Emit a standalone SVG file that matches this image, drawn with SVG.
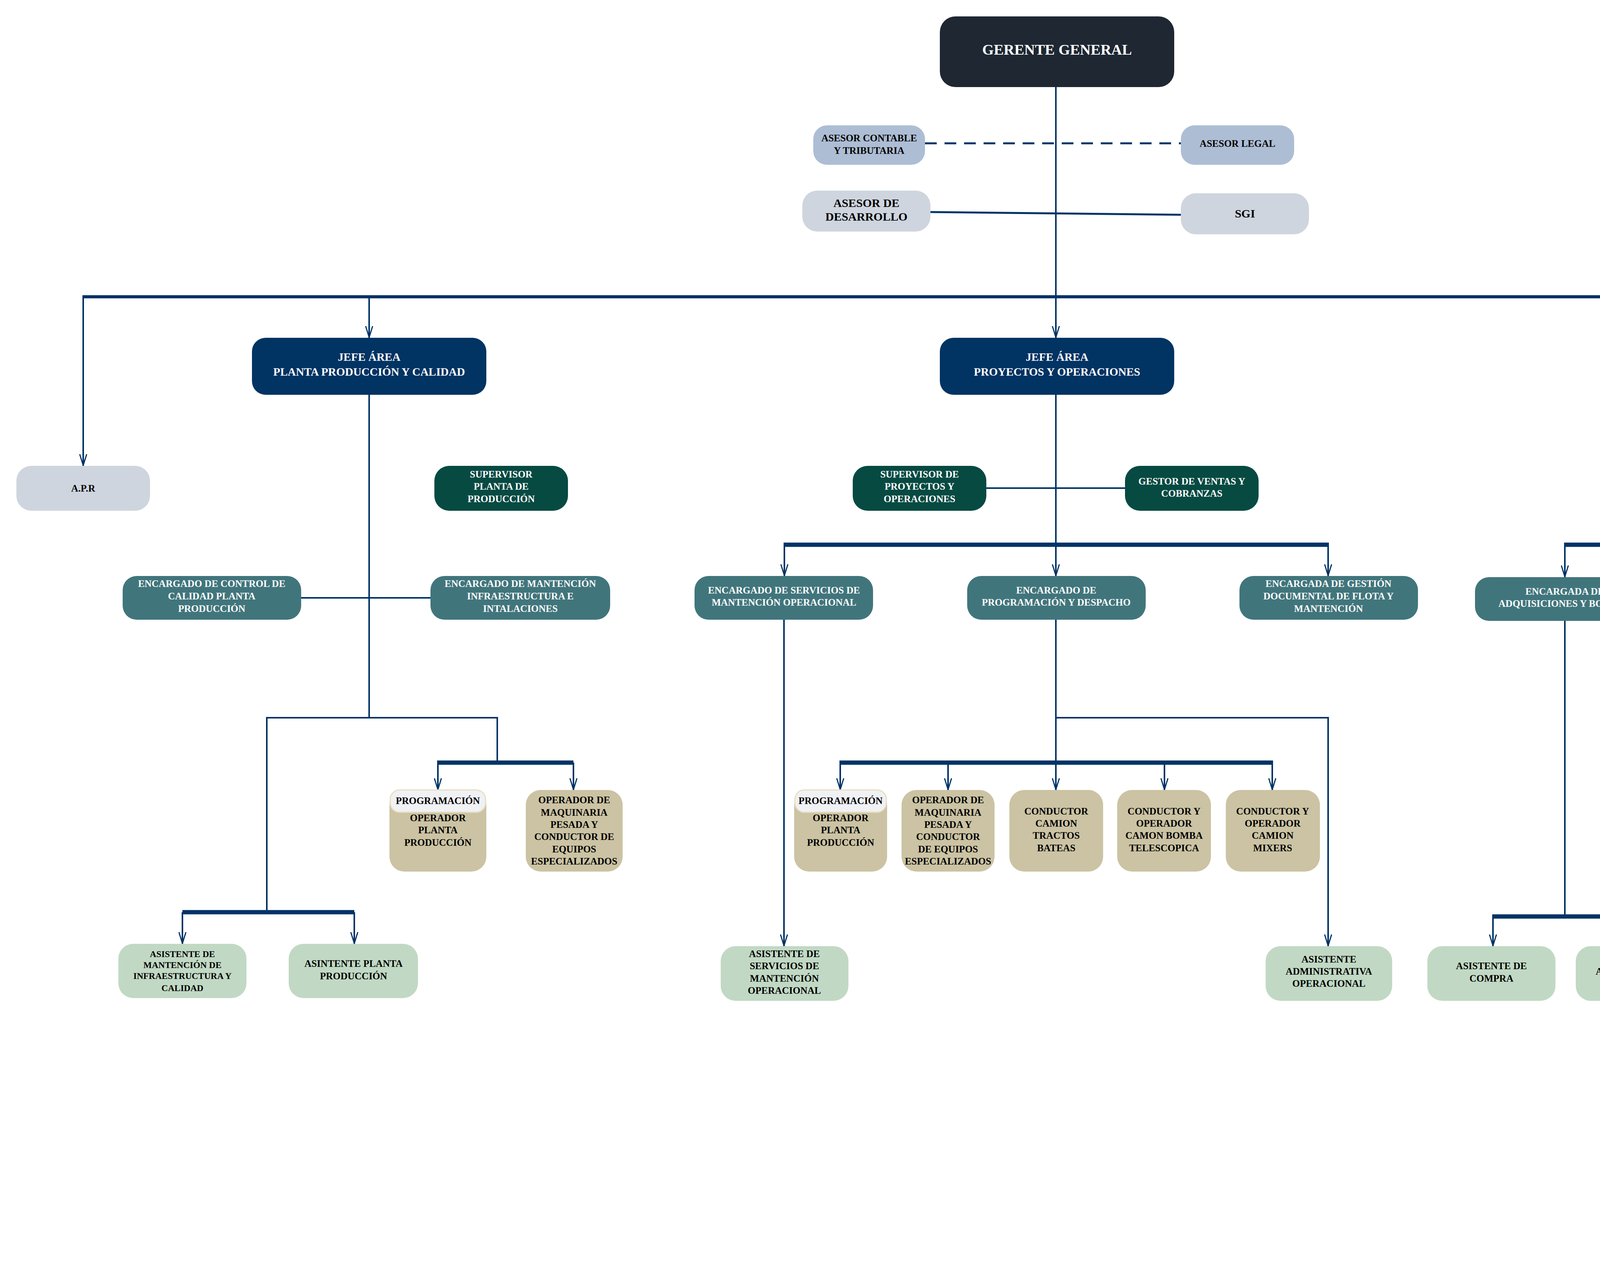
<svg xmlns="http://www.w3.org/2000/svg" width="5440" height="3260" viewBox="0 0 5440 3260">
<defs>
<marker id="ar" markerUnits="userSpaceOnUse" viewBox="0 0 20 30" refX="10" refY="30" markerWidth="20" markerHeight="30" orient="0"><path d="M1,0 L10,29 L19,0" fill="none" stroke="#003366" stroke-width="3"/></marker>
</defs>
<style>
text{font-family:"Liberation Serif","Times New Roman",serif;font-weight:bold;text-anchor:middle}
.w{fill:#fff}.k{fill:#000}
.s{font-size:25px}.m{font-size:28px}.l{font-size:30px}
.ln{fill:none;stroke:#003366;stroke-width:4}
.th{fill:none;stroke:#003366;stroke-width:11}
.a{marker-end:url(#ar)}
.g{fill:#1e2732}.j{fill:#013363}.ac{fill:#adbdd4}.gr{fill:#cfd5de}.dg{fill:#064a42}.en{fill:#41757c}.be{fill:#cbc3a3}.lg{fill:#c1d9c4}.pt{fill:#d5dcdb}
.hd{fill:#f0f1f5;stroke:#e8dfc0;stroke-width:3}
</style>
<g id="connectors">
<line class="ln" x1="2368" y1="367" x2="3023" y2="367" stroke-dasharray="30,20" style="stroke-width:5"/>
<line class="ln" x1="2382" y1="543" x2="3023" y2="550" style="stroke-width:5"/>
<line class="ln a" x1="2703" y1="223" x2="2703" y2="865"/>
<line class="ln" x1="211" y1="760" x2="4528" y2="760" style="stroke-width:8"/>
<line class="ln a" x1="213" y1="760" x2="213" y2="1193"/>
<line class="ln a" x1="945" y1="760" x2="945" y2="865"/>
<line class="ln a" x1="4526" y1="760" x2="4526" y2="886"/>
<line class="ln" x1="945" y1="1011" x2="945" y2="1838"/>
<line class="ln" x1="771" y1="1531" x2="1102" y2="1531"/>
<polyline class="ln" points="683,2336 683,1838 1273,1838 1273,1953"/>
<line class="th" x1="467" y1="2336" x2="907" y2="2336"/>
<line class="ln a" x1="467" y1="2336" x2="467" y2="2417"/>
<line class="ln a" x1="907" y1="2336" x2="907" y2="2417"/>
<line class="th" x1="1119" y1="1953" x2="1468" y2="1953"/>
<line class="ln a" x1="1121" y1="1953" x2="1121" y2="2023"/>
<line class="ln a" x1="1468" y1="1953" x2="1468" y2="2023"/>
<line class="ln" x1="2703" y1="1011" x2="2703" y2="1395"/>
<line class="ln" x1="2525" y1="1250" x2="2880" y2="1250"/>
<line class="th" x1="2006" y1="1395" x2="3402" y2="1395"/>
<line class="ln a" x1="2008" y1="1395" x2="2008" y2="1475"/>
<line class="ln a" x1="2703" y1="1395" x2="2703" y2="1475"/>
<line class="ln a" x1="3400" y1="1395" x2="3400" y2="1475"/>
<line class="ln a" x1="2007" y1="1587" x2="2007" y2="2423"/>
<line class="ln a" x1="2703" y1="1587" x2="2703" y2="2023"/>
<polyline class="ln a" points="2703,1838 3400,1838 3400,2423"/>
<line class="th" x1="2149" y1="1953" x2="3259" y2="1953"/>
<line class="ln a" x1="2151" y1="1953" x2="2151" y2="2023"/>
<line class="ln a" x1="2427" y1="1953" x2="2427" y2="2023"/>
<line class="ln a" x1="2981" y1="1953" x2="2981" y2="2023"/>
<line class="ln a" x1="3257" y1="1953" x2="3257" y2="2023"/>
<line class="ln" x1="4526" y1="1032" x2="4526" y2="1112"/>
<line class="th" x1="4524" y1="1112" x2="5079" y2="1112"/>
<line class="ln a" x1="4526" y1="1112" x2="4526" y2="1200"/>
<line class="ln a" x1="5077" y1="1112" x2="5077" y2="1193"/>
<line class="ln" x1="4526" y1="1311" x2="4526" y2="1395"/>
<line class="th" x1="4004" y1="1395" x2="5079" y2="1395"/>
<line class="ln a" x1="4006" y1="1395" x2="4006" y2="1478"/>
<line class="ln a" x1="4526" y1="1395" x2="4526" y2="1478"/>
<line class="ln a" x1="4791" y1="1395" x2="4791" y2="2423"/>
<line class="ln" x1="5077" y1="1395" x2="5077" y2="2640"/>
<line class="ln" x1="4006" y1="1590" x2="4006" y2="2347"/>
<line class="th" x1="3820" y1="2347" x2="4200" y2="2347"/>
<line class="ln a" x1="3822" y1="2347" x2="3822" y2="2423"/>
<line class="ln a" x1="4198" y1="2347" x2="4198" y2="2423"/>
<line class="th" x1="4876" y1="2640" x2="5274" y2="2640"/>
<line class="ln a" x1="4878" y1="2640" x2="4878" y2="2720"/>
<line class="ln a" x1="5272" y1="2640" x2="5272" y2="2720"/>
</g>
<g id="gerente"><rect class="g" x="2406" y="42" width="600" height="181" rx="40"/><text class="w" x="2706" y="140" font-size="38">GERENTE GENERAL</text></g>
<g id="asesor-contable"><rect class="ac" x="2082" y="321" width="286" height="101" rx="35"/><text class="k s" x="2225" y="362">ASESOR CONTABLE</text><text class="k s" x="2225" y="394">Y TRIBUTARIA</text></g>
<g id="asesor-legal"><rect class="ac" x="3023" y="321" width="290" height="101" rx="35"/><text class="k s" x="3168" y="376">ASESOR LEGAL</text></g>
<g id="asesor-desarrollo"><rect class="gr" x="2054" y="488" width="328" height="105" rx="38"/><text class="k l" x="2218" y="530">ASESOR DE</text><text class="k l" x="2218" y="565">DESARROLLO</text></g>
<g id="sgi"><rect class="gr" x="3023" y="495" width="328" height="105" rx="38"/><text class="k l" x="3187" y="557">SGI</text></g>
<g id="jefe-planta"><rect class="j" x="645" y="865" width="600" height="146" rx="35"/><text class="w" font-size="29" x="945" y="924">JEFE ÁREA</text><text class="w" font-size="29" x="945" y="962">PLANTA PRODUCCIÓN Y CALIDAD</text></g>
<g id="jefe-proyectos"><rect class="j" x="2406" y="865" width="600" height="146" rx="35"/><text class="w" font-size="29" x="2706" y="924">JEFE ÁREA</text><text class="w" font-size="29" x="2706" y="962">PROYECTOS  Y OPERACIONES</text></g>
<g id="jefe-admin"><rect class="j" x="4226" y="886" width="600" height="146" rx="35"/><text class="w" font-size="29" x="4526" y="945">JEFE ÁREA</text><text class="w" font-size="29" x="4526" y="983">ADMINISTRACIÓN Y FINANZAS</text></g>
<g id="apr"><rect class="gr" x="42" y="1193" width="342" height="115" rx="38"/><text class="k s" x="213" y="1259">A.P.R</text></g>
<g id="supervisor-planta"><rect class="dg" x="1112" y="1193" width="342" height="115" rx="38"/><text class="w s" x="1283" y="1223">SUPERVISOR</text><text class="w s" x="1283" y="1254">PLANTA DE</text><text class="w s" x="1283" y="1286">PRODUCCIÓN</text></g>
<g id="enc-calidad"><rect class="en" x="314" y="1475" width="457" height="112" rx="36"/><text class="w s" x="542" y="1503">ENCARGADO DE CONTROL DE</text><text class="w s" x="542" y="1535">CALIDAD PLANTA</text><text class="w s" x="542" y="1567">PRODUCCIÓN</text></g>
<g id="enc-mantencion"><rect class="en" x="1102" y="1475" width="460" height="112" rx="36"/><text class="w s" x="1332" y="1503">ENCARGADO DE MANTENCIÓN</text><text class="w s" x="1332" y="1535">INFRAESTRUCTURA E</text><text class="w s" x="1332" y="1567">INTALACIONES</text></g>
<g id="op-planta-1"><rect class="be" x="997" y="2023" width="248" height="209" rx="38"/><rect class="hd" x="999" y="2023" width="244" height="57" rx="24"/><text class="k s" x="1121" y="2059">PROGRAMACIÓN</text><text class="k s" x="1121" y="2103">OPERADOR</text><text class="k s" x="1121" y="2134">PLANTA</text><text class="k s" x="1121" y="2166">PRODUCCIÓN</text></g>
<g id="op-maq-1"><rect class="be" x="1346" y="2023" width="248" height="209" rx="38"/><text class="k s" x="1470" y="2057">OPERADOR DE</text><text class="k s" x="1470" y="2089">MAQUINARIA</text><text class="k s" x="1470" y="2120">PESADA Y</text><text class="k s" x="1470" y="2151">CONDUCTOR DE</text><text class="k s" x="1470" y="2183">EQUIPOS</text><text class="k s" x="1470" y="2214">ESPECIALIZADOS</text></g>
<g id="asist-mant"><rect class="lg" x="303" y="2417" width="328" height="139" rx="38"/><text class="k" font-size="23" x="467" y="2451">ASISTENTE DE</text><text class="k" font-size="23" x="467" y="2479">MANTENCIÓN DE</text><text class="k" font-size="23" x="467" y="2507">INFRAESTRUCTURA Y</text><text class="k" font-size="23" x="467" y="2538">CALIDAD</text></g>
<g id="asist-planta"><rect class="lg" x="739" y="2417" width="331" height="139" rx="38"/><text class="k s" x="905" y="2476">ASINTENTE PLANTA</text><text class="k s" x="905" y="2508">PRODUCCIÓN</text></g>
<g id="sup-proyectos"><rect class="dg" x="2183" y="1193" width="342" height="115" rx="38"/><text class="w s" x="2354" y="1223">SUPERVISOR DE</text><text class="w s" x="2354" y="1254">PROYECTOS Y</text><text class="w s" x="2354" y="1286">OPERACIONES</text></g>
<g id="gestor-ventas"><rect class="dg" x="2880" y="1193" width="342" height="115" rx="38"/><text class="w s" x="3051" y="1241">GESTOR DE VENTAS Y</text><text class="w s" x="3051" y="1272">COBRANZAS</text></g>
<g id="enc-servicios"><rect class="en" x="1778" y="1475" width="457" height="112" rx="36"/><text class="w s" x="2007" y="1520">ENCARGADO DE SERVICIOS DE</text><text class="w s" x="2007" y="1551">MANTENCIÓN OPERACIONAL</text></g>
<g id="enc-programacion"><rect class="en" x="2476" y="1475" width="457" height="112" rx="36"/><text class="w s" x="2704" y="1520">ENCARGADO DE</text><text class="w s" x="2704" y="1551">PROGRAMACIÓN Y DESPACHO</text></g>
<g id="enc-documental"><rect class="en" x="3173" y="1475" width="457" height="112" rx="36"/><text class="w s" x="3401" y="1503">ENCARGADA DE GESTIÓN</text><text class="w s" x="3401" y="1535">DOCUMENTAL  DE FLOTA Y</text><text class="w s" x="3401" y="1567">MANTENCIÓN</text></g>
<g id="asist-servicios"><rect class="lg" x="1845" y="2423" width="327" height="140" rx="38"/><text class="k s" x="2008" y="2451">ASISTENTE DE</text><text class="k s" x="2008" y="2482">SERVICIOS DE</text><text class="k s" x="2008" y="2514">MANTENCIÓN</text><text class="k s" x="2008" y="2545">OPERACIONAL</text></g>
<g id="asist-adm-op"><rect class="lg" x="3240" y="2423" width="324" height="140" rx="38"/><text class="k s" x="3402" y="2465">ASISTENTE</text><text class="k s" x="3402" y="2496">ADMINISTRATIVA</text><text class="k s" x="3402" y="2527">OPERACIONAL</text></g>
<g id="op-planta-2"><rect class="be" x="2033" y="2023" width="238" height="209" rx="38"/><rect class="hd" x="2035" y="2023" width="234" height="57" rx="24"/><text class="k s" x="2152" y="2059">PROGRAMACIÓN</text><text class="k s" x="2152" y="2103">OPERADOR</text><text class="k s" x="2152" y="2134">PLANTA</text><text class="k s" x="2152" y="2166">PRODUCCIÓN</text></g>
<g id="op-maq-2"><rect class="be" x="2308" y="2023" width="238" height="209" rx="38"/><text class="k s" x="2427" y="2057">OPERADOR DE</text><text class="k s" x="2427" y="2089">MAQUINARIA</text><text class="k s" x="2427" y="2120">PESADA Y</text><text class="k s" x="2427" y="2151">CONDUCTOR</text><text class="k s" x="2427" y="2183">DE EQUIPOS</text><text class="k s" x="2427" y="2214">ESPECIALIZADOS</text></g>
<g id="cond-tractos"><rect class="be" x="2584" y="2023" width="240" height="209" rx="38"/><text class="k s" x="2704" y="2086">CONDUCTOR</text><text class="k s" x="2704" y="2117">CAMION</text><text class="k s" x="2704" y="2148">TRACTOS</text><text class="k s" x="2704" y="2180">BATEAS</text></g>
<g id="cond-bomba"><rect class="be" x="2860" y="2023" width="240" height="209" rx="38"/><text class="k s" x="2980" y="2086">CONDUCTOR Y</text><text class="k s" x="2980" y="2117">OPERADOR</text><text class="k s" x="2980" y="2148">CAMON BOMBA</text><text class="k s" x="2980" y="2180">TELESCOPICA</text></g>
<g id="cond-mixers"><rect class="be" x="3138" y="2023" width="241" height="209" rx="38"/><text class="k s" x="3258" y="2086">CONDUCTOR Y</text><text class="k s" x="3258" y="2117">OPERADOR</text><text class="k s" x="3258" y="2148">CAMION</text><text class="k s" x="3258" y="2180">MIXERS</text></g>
<g id="gestor-adm"><rect class="dg" x="4355" y="1200" width="342" height="111" rx="38"/><text class="w s" x="4526" y="1230">GESTOR</text><text class="w s" x="4526" y="1261">ADMINISTRATIVO Y</text><text class="w s" x="4526" y="1293">CONTABLE</text></g>
<g id="gestor-fin"><rect class="dg" x="4906" y="1193" width="342" height="115" rx="38"/><text class="w s" x="5077" y="1259">GESTOR FINANCIERO</text></g>
<g id="enc-adquisiciones"><rect class="en" x="3776" y="1478" width="461" height="112" rx="36"/><text class="w s" x="4006" y="1523">ENCARGADA  DE</text><text class="w s" x="4006" y="1554">ADQUISICIONES Y BODEGA</text></g>
<g id="enc-personas"><rect class="en" x="4296" y="1478" width="460" height="112" rx="36"/><text class="w s" x="4526" y="1523">ENCARGADA  DE GESTIÓN DE</text><text class="w s" x="4526" y="1554">PERSONAS</text></g>
<g id="asist-compra"><rect class="lg" x="3654" y="2423" width="328" height="140" rx="38"/><text class="k s" x="3818" y="2482">ASISTENTE DE</text><text class="k s" x="3818" y="2514">COMPRA</text></g>
<g id="asist-adq"><rect class="lg" x="4034" y="2423" width="328" height="140" rx="38"/><text class="k s" x="4198" y="2465">ASISTENTE DE</text><text class="k s" x="4198" y="2496">ADQUISICIONES Y</text><text class="k s" x="4198" y="2527">BODEGA</text></g>
<g id="asist-administrativa"><rect class="lg" x="4627" y="2423" width="328" height="137" rx="38"/><text class="k s" x="4791" y="2482">ASISTENTE</text><text class="k s" x="4791" y="2513">ADMINISTRATIVA</text></g>
<g id="portero"><rect class="pt" x="4732" y="2720" width="293" height="139" rx="38"/><text class="k m" x="4878" y="2799">PORTERO</text></g>
<g id="auxiliar"><rect class="pt" x="5119" y="2720" width="307" height="139" rx="38"/><text class="k m" x="5272" y="2776">AUXILIAR  DE</text><text class="k m" x="5272" y="2814">ASEO</text></g>
</svg>
